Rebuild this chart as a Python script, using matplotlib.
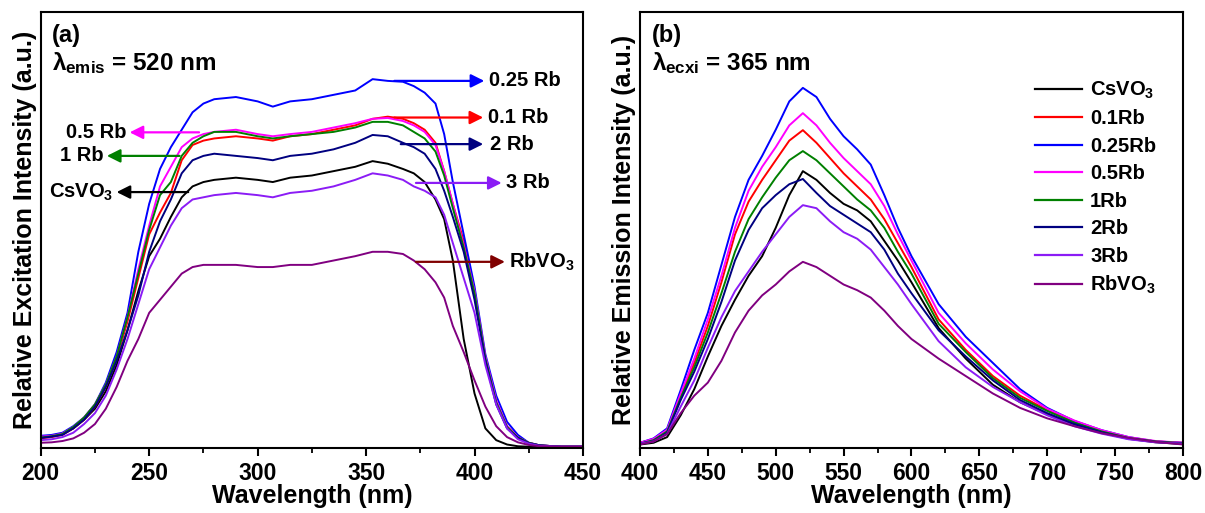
import matplotlib
matplotlib.use("Agg")
import matplotlib.pyplot as plt
from matplotlib.ticker import MultipleLocator

plt.rcParams['font.family'] = ['Liberation Sans', 'DejaVu Sans']
plt.rcParams['font.weight'] = 'bold'
plt.rcParams['mathtext.fontset'] = 'custom'
plt.rcParams['mathtext.rm'] = 'Liberation Sans:bold'
plt.rcParams['mathtext.bf'] = 'Liberation Sans:bold'
plt.rcParams['mathtext.it'] = 'Liberation Sans:bold'

# ---- panel (a): excitation spectra ----
wl_exc = [200, 205, 210, 215, 220, 225, 230, 235, 240, 245, 250, 255, 260, 265, 270,
          275, 280, 290, 300, 307, 315, 325, 335, 345, 353, 360, 367, 372, 377, 382,
          386, 390, 395, 400, 405, 410, 415, 420, 425, 430, 440, 450]

exc_cs = [2.5, 2.8, 3.2, 4.5, 6.5, 9, 13, 19, 27, 36, 44, 48, 53, 57.5, 60,
          61, 61.5, 62, 61.5, 61, 62, 62.5, 63.5, 64.5, 65.8, 65.2, 64, 63, 61, 57,
          52.5, 43, 25, 12.5, 4.5, 1.8, 0.8, 0.4, 0.3, 0.3, 0.3, 0.3]
exc_01 = [2.2, 2.5, 3, 4.5, 6.5, 9.5, 14, 20.5, 29, 39, 49, 54, 58.5, 66, 69.5,
          70.5, 71, 71.5, 71, 70.5, 71.5, 72, 73, 74, 75.5, 76, 75.5, 74.5, 73, 70,
          63.5, 56, 47.5, 36, 20.5, 10.5, 5, 2.5, 1.2, 0.6, 0.3, 0.3]
exc_025 = [2.8, 3, 3.5, 5, 7, 10, 15, 22, 31, 45, 56, 64, 69, 73, 77,
           79, 80, 80.5, 79.5, 78.3, 79.5, 80, 81, 82, 84.6, 84.2, 84, 83, 81.5, 79,
           72, 61, 49, 37, 21.5, 12, 6, 3, 1.2, 0.6, 0.3, 0.3]
exc_05 = [2.6, 2.8, 3.3, 4.8, 7, 10, 14.5, 21, 30, 41, 51, 60, 64.5, 69, 71,
          72, 72.5, 73, 72, 71.5, 72, 72.5, 73.5, 74.5, 75.5, 75.7, 75, 74, 72.5, 69.5,
          63.5, 56, 46.5, 36, 21, 11, 5, 2.5, 1.2, 0.6, 0.3, 0.3]
exc_1 = [2.4, 2.7, 3.2, 4.8, 7, 10, 14.5, 21, 30, 40, 50, 58, 61, 67, 70,
         71.5, 72.5, 72.5, 71.5, 71, 71.5, 72, 72.5, 73.5, 74.8, 74.8, 74, 72.5, 71, 68,
         62.5, 55, 46, 35.5, 20.5, 10.5, 4.8, 2.4, 1.2, 0.6, 0.3, 0.3]
exc_2 = [2.3, 2.6, 3, 4.5, 6.5, 9.5, 14, 20, 27, 35, 45, 52, 57, 63, 66,
         67, 67.5, 67, 66.5, 66, 67, 67.5, 68.5, 70, 71.8, 71.5, 70, 69, 67.5, 64,
         59, 53, 45, 34, 20, 10, 4.5, 2.3, 1.1, 0.6, 0.3, 0.3]
exc_3 = [1.8, 2, 2.5, 3.5, 5.5, 8, 12, 18, 25, 33, 41, 46, 51, 55, 57,
         57.5, 58, 58.5, 58, 57.5, 58.5, 59, 60, 61.5, 63, 62.5, 61.5, 60, 59, 57.5,
         53.5, 47, 39, 31, 19, 10, 4.5, 2, 1, 0.5, 0.3, 0.3]
exc_rb = [1.2, 1.3, 1.6, 2.2, 3.5, 5.5, 9, 14, 20, 25, 31, 34, 37, 40, 41.5,
          42, 42, 42, 41.5, 41.5, 42, 42, 43, 44, 45, 45, 44.5, 43, 41, 38,
          34.5, 28, 22, 15.5, 9.5, 5, 2.5, 1.3, 0.7, 0.4, 0.3, 0.3]

# ---- panel (b): emission spectra ----
wl_em = [400, 410, 420, 430, 440, 450, 460, 470, 480, 490, 500, 510, 520, 530, 540,
         550, 560, 570, 580, 590, 600, 620, 640, 660, 680, 700, 720, 740, 760, 780, 800]

em_cs = [0.8, 1.2, 2.5, 7.5, 13.5, 21, 28, 34, 39.5, 44, 50.5, 58, 63.5, 61.5, 58.5,
         56, 54.5, 52, 47.5, 43, 38, 27.5, 20.5, 14.5, 10.5, 7.7, 5.3, 3.5, 2.1, 1.3, 0.9]
em_01 = [1.2, 2, 4, 12, 19.5, 28, 38, 49, 56.5, 61.5, 66, 70.5, 72.9, 70, 66.5,
         63, 60, 57, 52.5, 47, 41.5, 29.5, 22.5, 16.5, 12, 8.7, 6, 3.9, 2.3, 1.5, 1.2]
em_025 = [1.2, 2.2, 4.5, 13.3, 22.5, 31, 42, 53, 61.5, 67, 73, 79.5, 82.6, 80.5, 75.5,
          71.5, 68.5, 65, 58, 50.5, 44, 33, 25.5, 19.5, 13.5, 9.2, 6.2, 4.1, 2.5, 1.5, 1.2]
em_05 = [1.2, 2.1, 4.2, 12.5, 20.5, 29.5, 39.5, 50.5, 59, 64.5, 69, 74, 76.8, 74, 70,
         66.5, 63.5, 60.5, 55.5, 49, 43, 31, 24, 18, 13, 9, 6.3, 4.1, 2.5, 1.6, 1.2]
em_1 = [1, 1.8, 3.8, 11.5, 18.5, 26.5, 35.5, 45, 52.5, 57.5, 62, 66, 68.1, 66, 63,
        60, 57, 54.5, 50.5, 45, 40, 28.5, 22, 16, 11.5, 8.5, 5.8, 3.8, 2.3, 1.5, 1.1]
em_2 = [1, 1.6, 3.5, 11, 17.5, 25, 33.5, 43, 50, 55, 58, 60.5, 61.7, 58.5, 55.5,
        53.5, 51.5, 49.5, 45.5, 40, 35.5, 27, 21, 15.5, 11, 8, 5.5, 3.6, 2.2, 1.4, 1]
em_3 = [1, 1.5, 3.2, 9.5, 15.5, 23, 30, 36, 40.5, 45, 49, 53, 55.7, 55, 52,
        49.5, 48, 45.5, 41.5, 37.5, 33, 24.5, 18.5, 14, 10.5, 7.5, 5, 3.3, 2, 1.3, 1]
em_rb = [0.8, 1.5, 3.2, 8, 12, 15, 20, 26.5, 31.5, 35, 37.5, 40.5, 42.7, 41.5, 39.5,
         37.5, 36.2, 34.5, 31.5, 28, 25, 20.5, 16.5, 12.5, 9.2, 6.8, 5, 3.4, 2.3, 1.4, 0.8]

labels_b = [r'CsVO$_3$', '0.1Rb', '0.25Rb', '0.5Rb', '1Rb', '2Rb', '3Rb', r'RbVO$_3$']
colors = ['#000000', '#FF0000', '#0000FF', '#FF00FF', '#008000', '#000080', '#8B1CF5', '#800080']

exc_series = [exc_cs, exc_01, exc_025, exc_05, exc_1, exc_2, exc_3, exc_rb]
em_series = [em_cs, em_01, em_025, em_05, em_1, em_2, em_3, em_rb]

fig = plt.figure(figsize=(12.05, 5.13), dpi=100)
ax1 = fig.add_axes([0.0338, 0.1267, 0.4500, 0.8499])
ax2 = fig.add_axes([0.5311, 0.1267, 0.4506, 0.8499])

for ax in (ax1, ax2):
    for s in ax.spines.values():
        s.set_linewidth(1.5)
    ax.set_yticks([])
    ax.set_ylim(0, 100)
    ax.xaxis.set_major_locator(MultipleLocator(50))
    ax.xaxis.set_minor_locator(MultipleLocator(25))
    ax.tick_params(axis='x', which='major', direction='out', length=6, width=1.5,
                   labelsize=16.5, pad=4)
    ax.tick_params(axis='x', which='minor', direction='out', length=3.5, width=1.3)
    for t in ax.get_xticklabels():
        t.set_fontweight('bold')
    ax.set_xlabel('Wavelength (nm)', fontsize=18, fontweight='bold', labelpad=-1)

# panel (a)
for ys, c in zip(exc_series, colors):
    ax1.plot(wl_exc, ys, color=c, lw=1.4)
ax1.set_xlim(200, 450)
ax1.set_ylabel('Relative Excitation Intensity (a.u.)', fontsize=18, fontweight='bold', labelpad=3)
ax1.text(0.021, 0.947, '(a)', transform=ax1.transAxes, fontsize=17, fontweight='bold', va='center')
ax1.text(0.021, 0.883, r'$\lambda_{emis}$ = 520 nm', transform=ax1.transAxes,
         fontsize=17.5, fontweight='bold', va='center')

arrow_kw = dict(arrowstyle='-|>,head_length=0.5,head_width=0.25', lw=1.6,
                mutation_scale=16, shrinkA=0, shrinkB=0)
# (start nm, end nm, level, color, label, text x, ha)
arrows_a = [
    (363, 404.5, 84.2, '#0000FF', '0.25 Rb', 406.5, 'left'),
    (363, 404, 75.8, '#FF0000', '0.1 Rb', 406, 'left'),
    (366, 404, 69.7, '#000080', '2 Rb', 407, 'left'),
    (373, 412.5, 60.8, '#8B1CF5', '3 Rb', 414.5, 'left'),
    (373, 414, 42.7, '#800000', r'RbVO$_3$', 416, 'left'),
    (273, 241, 72.4, '#FF00FF', '0.5 Rb', 239.5, 'right'),
    (264, 230.5, 67.0, '#008000', '1 Rb', 229, 'right'),
    (268, 235, 58.7, '#000000', r'CsVO$_3$', 233.5, 'right'),
]
for x0, x1, lvl, c, lab, tx, ha in arrows_a:
    ax1.annotate('', xy=(x1, lvl), xytext=(x0, lvl),
                 arrowprops=dict(color=c, **arrow_kw))
    ax1.text(tx, lvl, lab, fontsize=14.5, fontweight='bold', ha=ha, va='center')

# panel (b)
for ys, c, lab in zip(em_series, colors, labels_b):
    ax2.plot(wl_em, ys, color=c, lw=1.4, label=lab)
ax2.set_xlim(400, 800)
ax2.set_ylabel('Relative Emission Intensity (a.u.)', fontsize=18, fontweight='bold', labelpad=3)
ax2.text(0.022, 0.947, '(b)', transform=ax2.transAxes, fontsize=17, fontweight='bold', va='center')
ax2.text(0.022, 0.883, r'$\lambda_{ecxi}$ = 365 nm', transform=ax2.transAxes,
         fontsize=17.5, fontweight='bold', va='center')
leg = ax2.legend(loc='upper left', bbox_to_anchor=(0.727, 0.845), frameon=False,
                 fontsize=14.5, handlelength=2.35, handletextpad=0.4,
                 labelspacing=0.42, borderpad=0, borderaxespad=0)
for t in leg.get_texts():
    t.set_fontweight('bold')
for h in leg.get_lines():
    h.set_linewidth(1.6)

fig.savefig('out.png', dpi=100)
